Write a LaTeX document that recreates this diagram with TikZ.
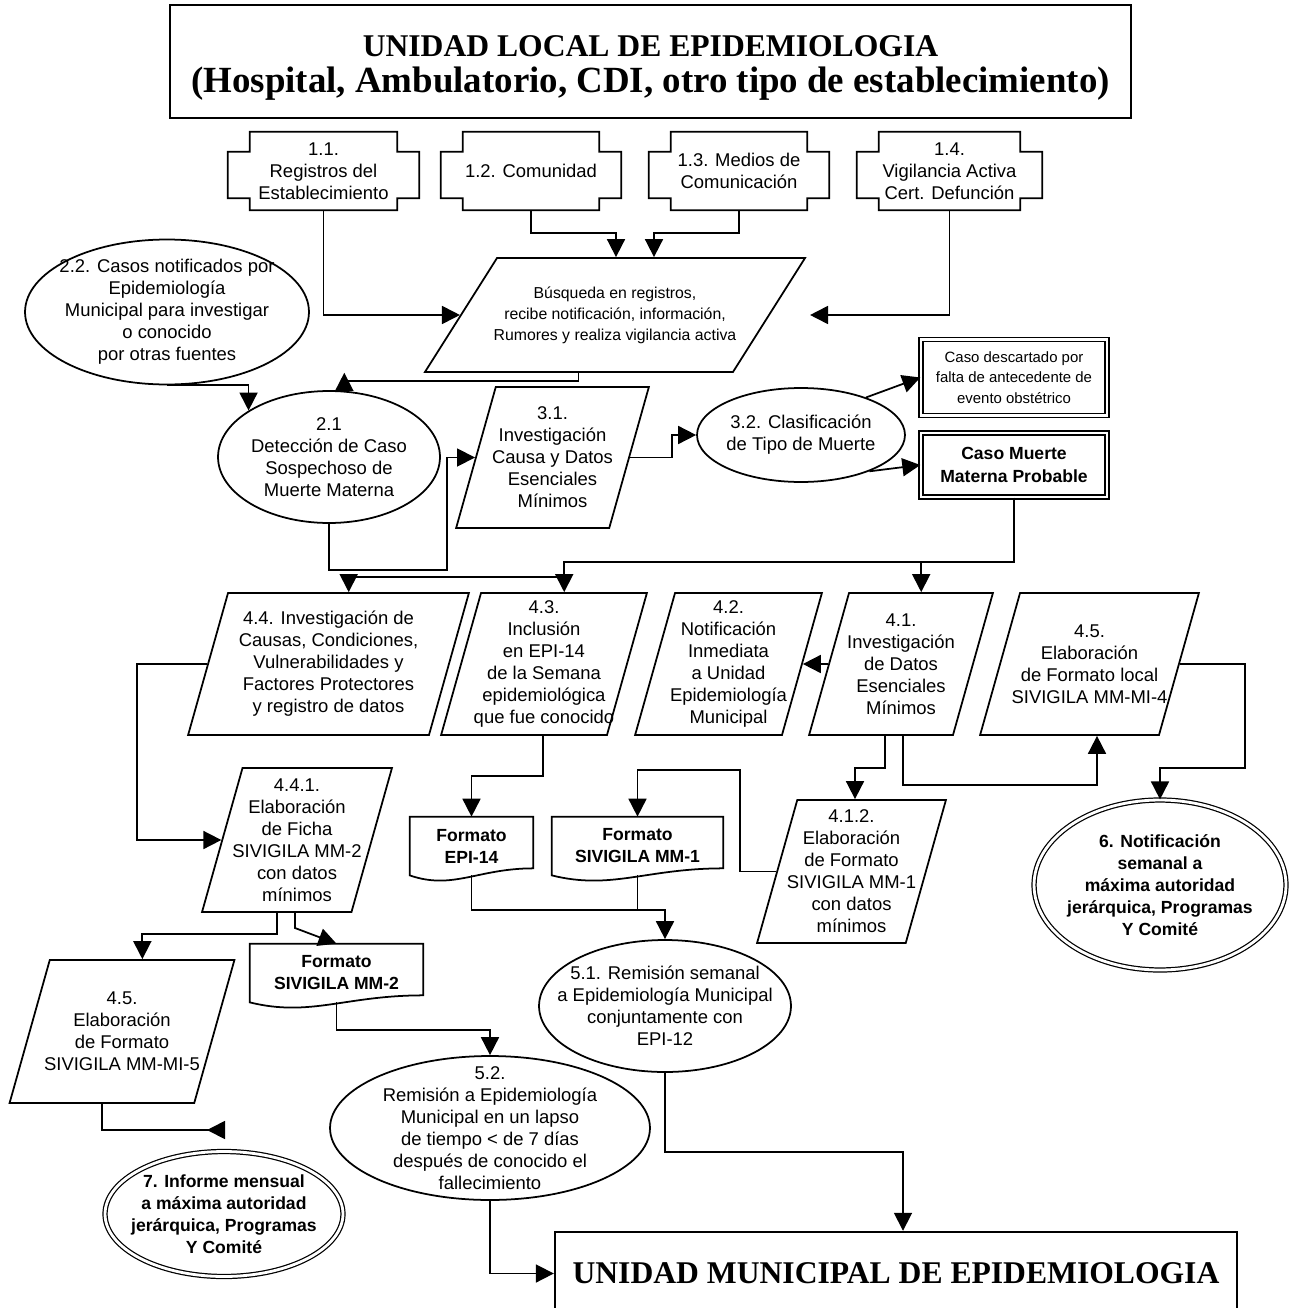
\documentclass[tikz,border=0pt]{standalone}
\usepackage{fontspec}
\setmainfont{Liberation Sans}
\newfontfamily\titlefont{Liberation Serif}
\usetikzlibrary{positioning,arrows.meta,shapes.geometric,calc}

\begin{document}
\begin{tikzpicture}[
    x=0.02cm, y=-0.02cm,
    txt/.style={align=center, inner sep=0pt, font=\fontsize{10.5}{12.5}\selectfont},
    smalltxt/.style={align=center, inner sep=0pt, font=\fontsize{9}{12}\selectfont},
    boldtxt/.style={align=center, inner sep=0pt, font=\fontsize{10}{12.5}\selectfont\bfseries},
    srcbox/.style={rectangle, inner sep=0pt, minimum height=1.56cm, txt},
    para/.style 2 args={
        trapezium,
        trapezium left angle=74.3,
        trapezium right angle=105.7,
        draw,
        line width=1pt,
        inner sep=0pt,
        text width=#1,
        text height=#2,
        text depth=0pt
    },
    ell/.style={ellipse, draw, line width=1pt, inner sep=0pt},
    dblell/.style={ellipse, draw, double, double distance=1.6pt, line width=0.7pt, inner sep=0pt},
    dblbox/.style={rectangle, draw, double, double distance=1.6pt, line width=0.8pt, inner sep=0pt},
    docbox/.style={rectangle, inner sep=0pt, minimum height=1.16cm, boldtxt},
    bigbox/.style={
        rectangle,
        draw,
        line width=1.4pt,
        align=center,
        inner sep=0pt,
        font=\titlefont\bfseries\fontsize{18}{20}\selectfont
    },
    arrow/.style={-{Triangle[length=0.36cm, width=0.36cm]}, line width=1pt},
    rarrow/.style={-{Triangle[length=0.36cm, width=0.36cm, reversed]}, line width=1pt},
    wire/.style={line width=1pt, line join=miter}
]

\useasboundingbox (0,0) rectangle (1291,1308);

%% ===== LOCAL UNIT =====
\node[bigbox, minimum width=19.22cm, minimum height=2.26cm] (local) at (650.5,61.5)
  {\rule{0pt}{0.68cm}UNIDAD LOCAL DE EPIDEMIOLOGIA\\
   {\fontsize{21}{20}\selectfont (Hospital, Ambulatorio, CDI, otro tipo de establecimiento)}};

%% ===== SOURCES =====
\node[srcbox, minimum width=3.82cm] (s11) at (323.5,171) {1.1.\\Registros del\\Establecimiento};
\node[srcbox, minimum width=3.6cm] (s12) at (531,171) {1.2. Comunidad};
\node[srcbox, minimum width=3.6cm] (s13) at (739,171) {1.3. Medios de\\Comunicación};
\node[srcbox, minimum width=3.7cm] (s14) at (949.5,171) {1.4.\\Vigilancia Activa\\Cert. Defunción};

\foreach \s in {s11,s12,s13,s14}
  \draw[wire] ([xshift=0.44cm]\s.north west) -- ([xshift=-0.44cm]\s.north east)
    -- ++(0,20) -- ++(22,0) -- ([yshift=0.24cm]\s.south east) -- ++(-22,0)
    -- ([xshift=-0.44cm]\s.south east) -- ([xshift=0.44cm]\s.south west)
    -- ++(0,-12) -- ++(-22,0) -- ([yshift=-0.4cm]\s.north west) -- ++(22,0) -- cycle;

%% ===== SEARCH / DETECTION =====
\node[para={4.72cm}{2.28cm}, trapezium left angle=57.7, trapezium right angle=122.3,
      label={[smalltxt]center:{Búsqueda en registros,\\recibe  notificación, información,\\Rumores y  realiza vigilancia activa}}]
  (bus) at (615,315) {};

\node[ell, minimum width=5.68cm, minimum height=2.9cm,
      label={[txt]center:{2.2. Casos notificados por\\Epidemiología\\Municipal para investigar\\o conocido\\por otras fuentes}}]
  (casos) at (167,312) {};

\node[ell, minimum width=4.44cm, minimum height=2.64cm,
      label={[txt]center:{2.1\\Detección de Caso\\Sospechoso de\\Muerte Materna}}]
  (det) at (329,457) {};

\node[para={2.27cm}{2.82cm},
      label={[txt]center:{3.1.\\Investigación\\Causa y Datos\\Esenciales\\Mínimos}}]
  (inv31) at (552.5,457.5) {};

\node[ell, minimum width=4.16cm, minimum height=1.88cm,
      label={[txt]center:{3.2. Clasificación\\de Tipo de Muerte}}]
  (clas) at (801,435) {};

\node[dblbox, minimum width=3.72cm, minimum height=1.52cm, align=center,
      font=\fontsize{8.5}{11.5}\selectfont] (desc) at (1014,377.5)
  {Caso descartado por\\falta de antecedente de\\evento obstétrico};

\node[dblbox, minimum width=3.72cm, minimum height=1.28cm, boldtxt,
      font=\fontsize{10}{13}\selectfont\bfseries] (prob) at (1014,465)
  {Caso Muerte\\Materna Probable};

%% ===== ROW 4 =====
\node[para={4.02cm}{2.84cm},
      label={[txt]center:{4.4. Investigación de\\Causas, Condiciones,\\Vulnerabilidades y\\Factores Protectores\\y registro de datos}}]
  (n44) at (328.5,664) {};
\node[para={2.52cm}{2.84cm},
      label={[txt]center:{4.3.\\Inclusión\\en EPI-14\\de la Semana\\epidemiológica\\que fue conocido}}]
  (n43) at (544,664) {};
\node[para={2.14cm}{2.84cm},
      label={[txt]center:{4.2.\\Notificación\\Inmediata\\a Unidad\\Epidemiología\\Municipal}}]
  (n42) at (728.5,664) {};
\node[para={2.08cm}{2.84cm},
      label={[txt]center:{4.1.\\Investigación\\de Datos\\Esenciales\\Mínimos}}]
  (n41) at (901,664) {};
\node[para={2.78cm}{2.84cm},
      label={[txt]center:{4.5.\\Elaboración\\de Formato local\\SIVIGILA MM-MI-4}}]
  (n45) at (1089.5,664) {};

%% ===== FORMS =====
\node[para={2.18cm}{2.88cm},
      label={[txt]center:{4.4.1.\\Elaboración\\de Ficha\\SIVIGILA MM-2\\con datos\\mínimos}}]
  (n441) at (297,840) {};
\node[para={2.17cm}{2.86cm},
      label={[txt]center:{4.1.2.\\Elaboración\\de Formato\\SIVIGILA MM-1\\con datos\\mínimos}}]
  (n412) at (851.5,871.5) {};
\node[para={2.89cm}{2.86cm},
      label={[txt]center:{4.5.\\Elaboración\\de Formato\\SIVIGILA MM-MI-5}}]
  (n45b) at (122,1031.5) {};

\node[docbox, minimum width=2.46cm] (epi) at (471.5,846) {Formato\\EPI-14};
\node[docbox, minimum width=3.42cm] (mm1) at (637.5,846) {Formato\\SIVIGILA MM-1};
\node[docbox, minimum width=3.46cm] (mm2) at (336.5,973) {Formato\\SIVIGILA MM-2};

\foreach \d in {epi,mm1,mm2}
  \draw[wire] (\d.south west) -- (\d.north west) -- (\d.north east)
    -- ($(\d.south east)+(0,-7)$)
    .. controls ($(\d.south west)!0.55!(\d.south east)+(0,-7)$)
           and ($(\d.south west)!0.35!(\d.south east)+(0,15)$) .. (\d.south west) -- cycle;

%% ===== REPORTS =====
\node[ell, minimum width=5.04cm, minimum height=2.64cm,
      label={[txt]center:{5.1. Remisión semanal\\a  Epidemiología Municipal\\conjuntamente con\\EPI-12}}]
  (rem51) at (665,1006) {};
\node[ell, minimum width=6.4cm, minimum height=2.88cm,
      label={[txt]center:{5.2.\\Remisión a Epidemiología\\Municipal  en un lapso\\de tiempo < de 7 días\\después de conocido el\\fallecimiento}}]
  (rem52) at (490,1128) {};
\node[dblell, minimum width=5.04cm, minimum height=3.4cm,
      label={[boldtxt]center:{6. Notificación\\semanal  a\\máxima autoridad\\jerárquica, Programas\\Y Comité}}]
  (not6) at (1160,885) {};
\node[dblell, minimum width=4.76cm, minimum height=2.5cm,
      label={[boldtxt]center:{7. Informe mensual\\a  máxima autoridad\\jerárquica, Programas\\Y Comité}}]
  (inf7) at (224,1214) {};

\node[bigbox, minimum width=13.64cm, minimum height=1.66cm] (muni) at (896,1273.5)
  {UNIDAD MUNICIPAL DE EPIDEMIOLOGIA};

%% ===== CONNECTORS =====
\coordinate (t12) at (616,233);
\coordinate (t13) at (654,233);
\coordinate (k1) at (447,570);
\coordinate (k2) at (672,435);
\coordinate (r4) at (0,562);
\coordinate (r4b) at (0,577);
\coordinate (k3) at (885,768);
\coordinate (k4) at (855,768);
\coordinate (k5) at (903,785);
\coordinate (k6) at (1097,785);
\coordinate (k7) at (1245,768);
\coordinate (k8) at (137,840);
\coordinate (k9) at (277,934);
\coordinate (k10) at (295,928);
\coordinate (k11) at (543,776);
\coordinate (k12) at (740,770);
\coordinate (k13) at (665,910);
\coordinate (k14) at (0,1030);
\coordinate (k15) at (903,1152);
\coordinate (k16) at (225,1130);

\draw[arrow] (s11.south) |- (bus.left side);
\draw[arrow] (s12.south) |- (t12) -- (t12 |- bus.north);
\draw[arrow] (s13.south) |- (t13) -- (t13 |- bus.north);
\draw[arrow] (s14.south) |- ($(bus.right side)+(40,0)$);

\draw[rarrow] (bus.bottom side) |- ($(det.77)+(0,-10)$) -- (det.77);
\draw[arrow] (casos.south) -| (det.150);
\draw[arrow] (det.south) |- (k1) |- (inv31.left side);
\draw[arrow] (inv31.right side) -| (k2) -- (clas.west);
\draw[arrow] (clas.30) -- (desc.west);
\draw[arrow] (clas.-28) -- (prob.west);

\draw[arrow] (prob.south) |- (n43.top side |- r4) -- (n43.top side);
\draw[arrow] (n41.top side |- r4) -- (n41.top side);
\draw[arrow] (n43.top side |- r4b) -| (n44.top side);
\draw[arrow] (n41.left side) -- (n42.right side);

\draw[arrow] (k3 |- n41.south) -- (k3) -- (k4) -- (k4 |- n412.north);
\draw[arrow] (k5 |- n41.south) -- (k5) -- (k6) -- (k6 |- n45.south);
\draw[arrow] (n45.right side) -| (k7) -| (not6.north);

\draw[arrow] (n44.left side) -| (k8) -- (n441.left side);
\draw[arrow] (k9 |- n441.south) -- (k9) -| (n45b.top side);
\draw[arrow] (k10 |- n441.south) -- (k10) -- (mm2.north);
\draw[arrow] (k11 |- n43.south) -- (k11) -| (epi.north);
\draw[arrow] (n412.left side) -| (k12) -| (mm1.north);

\draw[arrow] (epi.south) |- (k13) -- (rem51.north);
\draw[wire] (mm1.south) -- (mm1.south |- k13);
\draw[arrow] (mm2.south) |- (rem52.north |- k14) -- (rem52.north);
\draw[arrow] (rem52.south) |- (muni.west);
\draw[arrow] (rem51.south) |- (k15) -- (k15 |- muni.north);
\draw[rarrow] (n45b.bottom side) |- (k16);

\end{tikzpicture}
\end{document}
